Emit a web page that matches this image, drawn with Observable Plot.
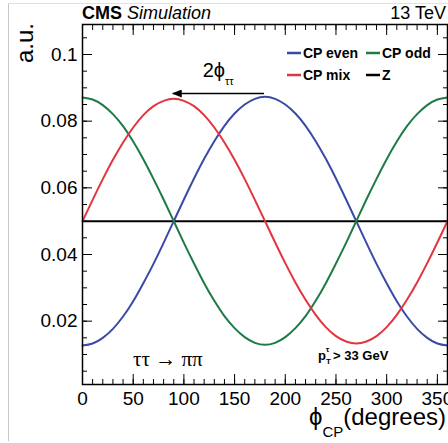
<!DOCTYPE html>
<html>
<head>
<meta charset="utf-8">
<script src="https://cdn.jsdelivr.net/npm/d3@7"></script>
<script src="https://cdn.jsdelivr.net/npm/@observablehq/plot@0.6"></script>
<style>
  html, body { margin: 0; padding: 0; background: #fff; }
  #wrap { position: relative; width: 448px; height: 443px; overflow: hidden; }
  #border { position: absolute; left: 8px; top: 3px; width: 460px; height: 437px;
            border-left: 1px solid #c8c8c8; border-top: 1px solid #e0e0e0; }
  svg { position: absolute; left: 0; top: 0; }
</style>
</head>
<body>
<div id="wrap"><div id="border"></div></div>
<script>
// ---- data ----
const phi = [0,10,20,30,40,50,60,70,80,90,100,110,120,130,140,150,160,170,180,
             190,200,210,220,230,240,250,260,270,280,290,300,310,320,330,340,350,360];
const cpEven = [0.0127,0.0133,0.0150,0.0177,0.0214,0.0260,0.0314,0.0372,0.0435,0.0500,
                0.0565,0.0628,0.0687,0.0740,0.0786,0.0823,0.0850,0.0867,0.0873,
                0.0867,0.0850,0.0823,0.0786,0.0740,0.0687,0.0628,0.0565,0.0500,
                0.0435,0.0372,0.0314,0.0260,0.0214,0.0177,0.0150,0.0133,0.0127];
const cpOdd = [0.0871,0.0865,0.0848,0.0821,0.0785,0.0739,0.0686,0.0627,0.0565,0.0500,
               0.0435,0.0373,0.0314,0.0261,0.0215,0.0179,0.0152,0.0135,0.0129,
               0.0135,0.0152,0.0179,0.0215,0.0261,0.0314,0.0373,0.0435,0.0500,
               0.0565,0.0627,0.0686,0.0739,0.0785,0.0821,0.0848,0.0865,0.0871];
const cpMix = [0.0500,0.0564,0.0626,0.0684,0.0736,0.0781,0.0818,0.0845,0.0861,0.0867,
               0.0861,0.0845,0.0818,0.0781,0.0736,0.0684,0.0626,0.0564,0.0500,
               0.0436,0.0374,0.0316,0.0264,0.0219,0.0182,0.0155,0.0139,0.0133,
               0.0139,0.0155,0.0182,0.0219,0.0264,0.0316,0.0374,0.0436,0.0500];
const zLevel = [0.0500];
const seriesNames = ["CP even", "CP odd", "CP mix"];
const seriesColors = ["#3a4aa6", "#1e7a46", "#e3343f"];
const xMajor = [0,50,100,150,200,250,300,350];
const xMinor = d3.range(0, 361, 10);
const yMajor = [0.02,0.04,0.06,0.08,0.1];
const yMinor = d3.range(1, 22).map(i => i * 0.005);
const arrowSpan = {x1: 179, x2: 89, y: 0.0883};

const rows = [];
[cpEven, cpOdd, cpMix].forEach((arr, k) => arr.forEach((v, i) => rows.push({phi: phi[i], value: v, series: seriesNames[k]})));

const font = "'Liberation Sans', Arial, Helvetica, sans-serif";

const chart = Plot.plot({
  width: 448, height: 443,
  marginLeft: 82, marginRight: 1, marginTop: 24, marginBottom: 59,
  x: {domain: [0, 360]},
  y: {domain: [0.001, 0.109]},
  color: {domain: seriesNames, range: seriesColors},
  style: {fontFamily: font, background: "transparent", color: "black"},
  marks: [
    Plot.ruleY(zLevel, {stroke: "black", strokeWidth: 2}),
    Plot.line(rows, {x: "phi", y: "value", stroke: "series", z: "series", curve: "natural", strokeWidth: 2}),
    Plot.link([arrowSpan], {x1: "x1", x2: "x2", y1: "y", y2: "y", stroke: "black", strokeWidth: 1.3}),
    // ticks (inward)
    Plot.axisX({anchor: "bottom", ticks: xMajor, tickSize: -10, text: null, label: null}),
    Plot.axisX({anchor: "bottom", ticks: xMinor, tickSize: -5, text: null, label: null}),
    Plot.axisX({anchor: "top", ticks: xMajor, tickSize: -10, text: null, label: null}),
    Plot.axisX({anchor: "top", ticks: xMinor, tickSize: -5, text: null, label: null}),
    Plot.axisY({anchor: "left", ticks: yMajor, tickSize: -10, text: null, label: null}),
    Plot.axisY({anchor: "left", ticks: yMinor, tickSize: -5, text: null, label: null}),
    Plot.axisY({anchor: "right", ticks: yMajor, tickSize: -10, text: null, label: null}),
    Plot.axisY({anchor: "right", ticks: yMinor, tickSize: -5, text: null, label: null}),
    // tick labels
    Plot.axisX({anchor: "bottom", ticks: xMajor, tickSize: 0, tickPadding: 7, fontSize: 19, label: null, tickFormat: d => String(d)}),
    Plot.axisY({anchor: "left", ticks: yMajor, tickSize: 0, tickPadding: 5, fontSize: 19, label: null, tickFormat: d => String(+d.toFixed(2))}),
    Plot.frame({stroke: "black", strokeWidth: 1.5})
  ]
});

const svg = d3.select(chart);
svg.attr("overflow", "visible");
document.getElementById("wrap").appendChild(chart);

const sx = chart.scale("x"), sy = chart.scale("y");

// arrowhead
svg.append("defs").html('<marker id="ah" viewBox="0 0 10 8" refX="9" refY="4" markerWidth="10" markerHeight="8" markerUnits="userSpaceOnUse" orient="auto"><path d="M0,0L10,4L0,8Z" fill="black"/></marker>');
svg.selectAll('g[aria-label="link"] path').attr("marker-end", "url(#ah)");

const g = svg.append("g").attr("font-family", font).attr("fill", "black").attr("text-anchor", "start");

// header
const hdr = g.append("text").attr("x", 82).attr("y", 19).attr("font-size", 18);
hdr.append("tspan").attr("font-weight", "bold").text("CMS");
hdr.append("tspan").attr("font-style", "italic").text(" Simulation");
g.append("text").attr("x", 446).attr("y", 19).attr("font-size", 18).attr("text-anchor", "end").text("13 TeV");

// y label
g.append("text").attr("transform", "translate(33,23) rotate(-90)").attr("text-anchor", "end")
  .attr("font-size", 24).text("a.u.");

// x label
const xl = g.append("text").attr("x", 446).attr("y", 425).attr("text-anchor", "end").attr("font-size", 24);
xl.append("tspan").text("ϕ");
xl.append("tspan").attr("font-size", 15).attr("dy", 12).text("CP");
xl.append("tspan").attr("dy", -12).text("(degrees)");

// 2phi_tautau annotation
const ann = g.append("text").attr("x", sx.apply(119)).attr("y", sy.apply(arrowSpan.y) - 16.5).attr("font-size", 20);
ann.append("tspan").text("2ϕ");
ann.append("tspan").attr("font-size", 11).attr("dy", 8).text("ττ");

// legend
const legend = [
  {name: "CP even", color: seriesColors[0], col: 0, row: 0},
  {name: "CP odd", color: seriesColors[1], col: 1, row: 0},
  {name: "CP mix", color: seriesColors[2], col: 0, row: 1},
  {name: "Z", color: "black", col: 1, row: 1}
];
const colX = [287, 366], rowY = [58, 80];
legend.forEach(d => {
  g.append("line").attr("x1", colX[d.col]).attr("x2", colX[d.col] + 14)
    .attr("y1", rowY[d.row] - 5).attr("y2", rowY[d.row] - 5)
    .attr("stroke", d.color).attr("stroke-width", 2.5);
  g.append("text").attr("x", colX[d.col] + 16).attr("y", rowY[d.row])
    .attr("font-size", 14).attr("font-weight", "bold").text(d.name);
});

// process label
g.append("text").attr("x", 133).attr("y", 366).attr("font-size", 21)
  .attr("font-family", "'Liberation Serif', 'Times New Roman', serif").text("ττ → ππ");

// pT cut label
const pt = g.append("text").attr("x", 318).attr("y", 360).attr("font-size", 13).attr("font-weight", "bold");
pt.append("tspan").text("p");
pt.append("tspan").attr("font-size", 8).attr("dy", 4).text("T");
pt.append("tspan").attr("font-size", 8).attr("dx", -5).attr("dy", -12).text("τ");
pt.append("tspan").attr("dy", 8).text(" > 33 GeV");
</script>
</body>
</html>
